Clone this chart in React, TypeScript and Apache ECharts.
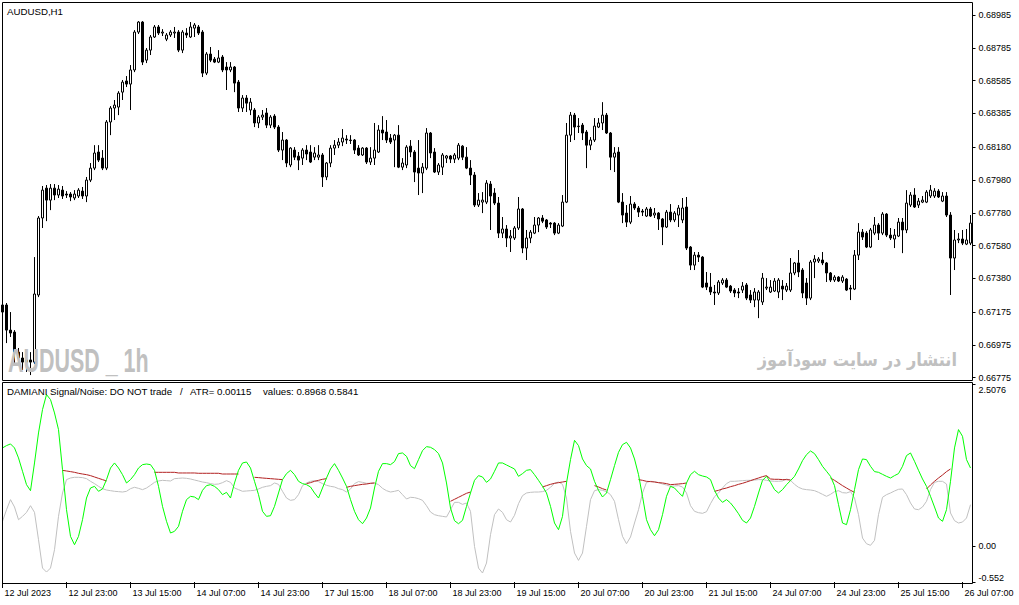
import React, { useEffect, useRef } from "react";
import * as echarts from "echarts";

// ---------- axis ticks / labels ----------
const xTickLabels = [
  "12 Jul 2023", "12 Jul 23:00", "13 Jul 15:00", "14 Jul 07:00", "14 Jul 23:00", "17 Jul 15:00",
  "18 Jul 07:00", "18 Jul 23:00", "19 Jul 15:00", "20 Jul 07:00", "20 Jul 23:00", "21 Jul 15:00",
  "24 Jul 07:00", "24 Jul 23:00", "25 Jul 15:00", "26 Jul 07:00",
];
const xLabelEvery = 16;
const priceTicks = [0.68985, 0.68785, 0.68585, 0.68385, 0.6818, 0.6798, 0.6778, 0.6758, 0.6738, 0.67175, 0.66975, 0.66775];
const priceMin = 0.66775;
const priceMax = 0.68985;
const indicatorTicks = [2.5076, 0, -0.552];
const indicatorTickLabels = ["2.5076", "0.00", "-0.552"];
const indicatorMin = -0.552;
const indicatorMax = 2.5076;

// ---------- AUDUSD H1 candles ----------
const open = [
  0.67175, 0.67218, 0.67065, 0.67053, 0.66931, 0.66895, 0.6687, 0.66883, 0.6687, 0.67279,
  0.67748, 0.6793, 0.67857, 0.6793, 0.67888, 0.67918, 0.67894, 0.67894, 0.6787, 0.67882,
  0.67912, 0.67882, 0.67979, 0.68052, 0.6815, 0.68113, 0.68052, 0.68333, 0.68418, 0.68424,
  0.68515, 0.68583, 0.68564, 0.6865, 0.68881, 0.68942, 0.6871, 0.68771, 0.68851, 0.68912,
  0.68875, 0.68838, 0.68863, 0.68875, 0.68881, 0.68771, 0.68875, 0.68851, 0.68905, 0.68912,
  0.68881, 0.68631, 0.68747, 0.68716, 0.68698, 0.68729, 0.68668, 0.6865, 0.68668, 0.68576,
  0.68418, 0.68479, 0.68406, 0.68406, 0.68327, 0.68363, 0.68388, 0.68314, 0.68369, 0.68302,
  0.68162, 0.68223, 0.68071, 0.68162, 0.68125, 0.68113, 0.68162, 0.6815, 0.68119, 0.68119,
  0.68132, 0.67998, 0.68083, 0.68174, 0.68192, 0.68211, 0.68229, 0.68223, 0.68223, 0.68174,
  0.68132, 0.68174, 0.68089, 0.68113, 0.6815, 0.68284, 0.68272, 0.68235, 0.68223, 0.68253,
  0.68058, 0.68071, 0.68186, 0.6815, 0.68052, 0.68022, 0.68052, 0.68266, 0.6815, 0.68028,
  0.68058, 0.68113, 0.68126, 0.68107, 0.68113, 0.68186, 0.68119, 0.68052, 0.6801, 0.67827,
  0.67845, 0.67845, 0.67955, 0.679, 0.67839, 0.67656, 0.67681, 0.67626, 0.67626, 0.67687,
  0.67803, 0.67565, 0.67626, 0.67656, 0.67705, 0.67748, 0.67736, 0.67717, 0.67717, 0.67656,
  0.67699, 0.67845, 0.68253, 0.68375, 0.68308, 0.68314, 0.68272, 0.68192, 0.68223, 0.68302,
  0.68327, 0.68375, 0.68266, 0.68119, 0.6815, 0.67845, 0.67778, 0.67723, 0.67833, 0.67809,
  0.6779, 0.6776, 0.67803, 0.67766, 0.67778, 0.67742, 0.67693, 0.67784, 0.67736, 0.67766,
  0.67736, 0.67815, 0.67571, 0.67461, 0.67522, 0.6751, 0.67352, 0.67327, 0.67297, 0.67291,
  0.67352, 0.6737, 0.67333, 0.67309, 0.67297, 0.67309, 0.6734, 0.67279, 0.67248, 0.67248,
  0.67236, 0.67321, 0.67297, 0.67303, 0.67297, 0.67333, 0.67309, 0.67309, 0.67413, 0.67474,
  0.67431, 0.67352, 0.6726, 0.6748, 0.67486, 0.67492, 0.67474, 0.67413, 0.6737, 0.67388,
  0.67364, 0.67376, 0.67321, 0.67315, 0.67522, 0.67662, 0.67656, 0.67571, 0.67656, 0.67705,
  0.67656, 0.67772, 0.67644, 0.6762, 0.67638, 0.67723, 0.67675, 0.67827, 0.67888, 0.67827,
  0.67845, 0.67845, 0.67882, 0.67882, 0.67912, 0.67851, 0.67882, 0.67766, 0.67504, 0.67614,
  0.6762, 0.67589, 0.67595,
];
const close = [
  0.67218, 0.67065, 0.67047, 0.66931, 0.66895, 0.6687, 0.66883, 0.6687, 0.67285, 0.67748,
  0.67918, 0.67857, 0.6793, 0.67888, 0.67924, 0.67882, 0.67888, 0.67876, 0.67894, 0.67918,
  0.67882, 0.67979, 0.68052, 0.68144, 0.68101, 0.68052, 0.68333, 0.68418, 0.68436, 0.68509,
  0.68576, 0.68564, 0.6865, 0.68881, 0.68942, 0.68698, 0.68771, 0.68851, 0.68912, 0.68875,
  0.68881, 0.68863, 0.68881, 0.68881, 0.68771, 0.68881, 0.68863, 0.68912, 0.68924, 0.68875,
  0.68631, 0.68747, 0.6871, 0.68698, 0.68723, 0.6865, 0.6865, 0.68668, 0.6857, 0.68418,
  0.68479, 0.68448, 0.68454, 0.68327, 0.68363, 0.68375, 0.68314, 0.68363, 0.68302, 0.68162,
  0.68223, 0.68083, 0.68174, 0.68119, 0.68101, 0.68162, 0.68138, 0.68089, 0.68144, 0.68132,
  0.67998, 0.68083, 0.68174, 0.68192, 0.68211, 0.68235, 0.68223, 0.6822, 0.68162, 0.68132,
  0.68174, 0.68089, 0.68113, 0.68162, 0.68284, 0.68266, 0.68223, 0.68211, 0.68253, 0.68058,
  0.68083, 0.6818, 0.6815, 0.68028, 0.68022, 0.68058, 0.68266, 0.68144, 0.68028, 0.68071,
  0.68132, 0.68126, 0.68107, 0.68132, 0.68192, 0.68119, 0.68052, 0.6801, 0.67827, 0.67857,
  0.67857, 0.67961, 0.67882, 0.67839, 0.67656, 0.67681, 0.67626, 0.67638, 0.67687, 0.67803,
  0.67565, 0.67626, 0.67662, 0.67705, 0.67748, 0.67729, 0.67693, 0.67711, 0.67656, 0.67705,
  0.67845, 0.68253, 0.68375, 0.68302, 0.68305, 0.68266, 0.68192, 0.68223, 0.68308, 0.68327,
  0.68375, 0.68266, 0.68119, 0.68144, 0.67845, 0.67766, 0.67723, 0.67833, 0.67809, 0.67784,
  0.67784, 0.67803, 0.6776, 0.67778, 0.67742, 0.67693, 0.67784, 0.67736, 0.67778, 0.67809,
  0.67809, 0.67565, 0.67461, 0.67522, 0.6751, 0.67327, 0.67327, 0.67297, 0.67291, 0.67358,
  0.6737, 0.67327, 0.67303, 0.67291, 0.67291, 0.67333, 0.6726, 0.67248, 0.67297, 0.67297,
  0.67382, 0.67327, 0.67327, 0.67364, 0.6737, 0.67315, 0.67333, 0.67413, 0.67474, 0.67419,
  0.67291, 0.6726, 0.6748, 0.67498, 0.67498, 0.67474, 0.67413, 0.6737, 0.67388, 0.67364,
  0.67388, 0.67309, 0.67315, 0.67522, 0.67662, 0.67632, 0.67571, 0.67675, 0.67705, 0.67656,
  0.67772, 0.67644, 0.67626, 0.67644, 0.67723, 0.67675, 0.67839, 0.67888, 0.67815, 0.67851,
  0.67857, 0.67906, 0.67918, 0.67912, 0.67876, 0.67882, 0.67766, 0.67504, 0.67614, 0.6762,
  0.67595, 0.67614, 0.67717,
];
const low = [
  0.67169, 0.66986, 0.67023, 0.66852, 0.66846, 0.66822, 0.6681, 0.66791, 0.66858, 0.67266,
  0.67687, 0.67729, 0.67796, 0.67857, 0.6787, 0.67864, 0.6787, 0.67851, 0.67857, 0.6787,
  0.67864, 0.67845, 0.67967, 0.6804, 0.68089, 0.6804, 0.6804, 0.68253, 0.68345, 0.68375,
  0.68467, 0.68546, 0.68406, 0.68637, 0.68869, 0.6868, 0.68692, 0.68741, 0.68845, 0.68863,
  0.68857, 0.68826, 0.68851, 0.68845, 0.68759, 0.68753, 0.68845, 0.68845, 0.68851, 0.68863,
  0.68607, 0.68619, 0.68698, 0.68692, 0.68692, 0.68637, 0.68528, 0.68637, 0.68515, 0.68394,
  0.68394, 0.68394, 0.68375, 0.68302, 0.68296, 0.68345, 0.68296, 0.68296, 0.6829, 0.6815,
  0.68101, 0.68058, 0.68058, 0.68101, 0.6804, 0.68071, 0.68101, 0.68083, 0.68101, 0.68101,
  0.67937, 0.67979, 0.68058, 0.68132, 0.68174, 0.68186, 0.68199, 0.68199, 0.68138, 0.68126,
  0.68126, 0.68077, 0.68071, 0.68071, 0.68144, 0.68223, 0.68205, 0.68199, 0.68058, 0.68052,
  0.6804, 0.68052, 0.68119, 0.67967, 0.67888, 0.679, 0.6804, 0.68113, 0.68022, 0.6801,
  0.6801, 0.68083, 0.68083, 0.68083, 0.68101, 0.68101, 0.68046, 0.67949, 0.67815, 0.67815,
  0.67778, 0.67833, 0.67675, 0.67827, 0.67626, 0.67626, 0.67571, 0.67541, 0.67614, 0.67675,
  0.67534, 0.67492, 0.67595, 0.6765, 0.67662, 0.67717, 0.67681, 0.67687, 0.67644, 0.6765,
  0.67693, 0.67839, 0.68211, 0.68223, 0.68266, 0.68223, 0.68052, 0.68162, 0.68211, 0.68296,
  0.68284, 0.6826, 0.6804, 0.68028, 0.67839, 0.67717, 0.67693, 0.67711, 0.67797, 0.67754,
  0.6776, 0.67754, 0.67754, 0.67748, 0.67675, 0.67583, 0.67687, 0.67723, 0.67723, 0.67693,
  0.67717, 0.67553, 0.67431, 0.67431, 0.6748, 0.67321, 0.67309, 0.67279, 0.67218, 0.67279,
  0.6734, 0.67321, 0.67291, 0.67266, 0.6726, 0.67291, 0.67248, 0.6723, 0.67205, 0.67138,
  0.67218, 0.67309, 0.67291, 0.67297, 0.6726, 0.67248, 0.67297, 0.67297, 0.674, 0.67388,
  0.6726, 0.67218, 0.67248, 0.67382, 0.67474, 0.67461, 0.67358, 0.67358, 0.67358, 0.67358,
  0.67352, 0.67303, 0.67248, 0.67309, 0.67492, 0.67614, 0.67565, 0.67565, 0.67644, 0.67614,
  0.67644, 0.67632, 0.67614, 0.67565, 0.67632, 0.67534, 0.67656, 0.67815, 0.67809, 0.67809,
  0.67839, 0.67839, 0.6787, 0.6787, 0.6787, 0.67845, 0.67754, 0.67279, 0.67431, 0.67595,
  0.67583, 0.67583, 0.67583,
];
const high = [
  0.67266, 0.6723, 0.67175, 0.67065, 0.66956, 0.66931, 0.66913, 0.66931, 0.6751, 0.6776,
  0.67943, 0.67949, 0.67955, 0.67955, 0.67949, 0.67943, 0.67912, 0.67906, 0.67918, 0.6793,
  0.67937, 0.67998, 0.68083, 0.68192, 0.68192, 0.68162, 0.68345, 0.6843, 0.68467, 0.68521,
  0.68589, 0.68613, 0.6868, 0.68893, 0.68948, 0.68948, 0.68784, 0.68863, 0.68924, 0.68924,
  0.68899, 0.68875, 0.68893, 0.68912, 0.68893, 0.68893, 0.68905, 0.68942, 0.68936, 0.68924,
  0.68893, 0.68759, 0.6879, 0.68729, 0.68771, 0.68741, 0.68698, 0.68698, 0.68674, 0.68589,
  0.68497, 0.68497, 0.68479, 0.68418, 0.68375, 0.68406, 0.68418, 0.68375, 0.68381, 0.68314,
  0.68272, 0.68229, 0.6818, 0.6818, 0.6815, 0.68174, 0.68192, 0.68192, 0.6818, 0.68192,
  0.68144, 0.68089, 0.68192, 0.68223, 0.68235, 0.6829, 0.68253, 0.68253, 0.68229, 0.68192,
  0.6818, 0.6818, 0.6818, 0.68327, 0.68314, 0.68369, 0.68345, 0.6826, 0.6826, 0.68314,
  0.68113, 0.68192, 0.68223, 0.68162, 0.68223, 0.68083, 0.68296, 0.68272, 0.68174, 0.68083,
  0.68144, 0.68132, 0.68132, 0.68144, 0.68205, 0.68192, 0.6818, 0.68101, 0.68028, 0.679,
  0.67906, 0.67979, 0.67973, 0.6793, 0.67876, 0.67754, 0.67705, 0.67675, 0.67699, 0.67876,
  0.67809, 0.67675, 0.67675, 0.67754, 0.67754, 0.67766, 0.67742, 0.67723, 0.67723, 0.67717,
  0.67888, 0.68327, 0.68394, 0.68388, 0.68357, 0.68327, 0.68284, 0.68241, 0.68357, 0.68357,
  0.68454, 0.68388, 0.68272, 0.6818, 0.6818, 0.679, 0.67827, 0.67882, 0.67845, 0.67821,
  0.67803, 0.67815, 0.67815, 0.67809, 0.67784, 0.67748, 0.67797, 0.67833, 0.6779, 0.67827,
  0.6787, 0.67876, 0.67577, 0.67541, 0.67541, 0.67516, 0.67419, 0.67413, 0.6734, 0.6737,
  0.67382, 0.67382, 0.6734, 0.67321, 0.67321, 0.67358, 0.67352, 0.67309, 0.67321, 0.67309,
  0.67413, 0.67382, 0.6737, 0.67382, 0.67382, 0.6737, 0.67352, 0.67504, 0.6748, 0.67553,
  0.67443, 0.67382, 0.67492, 0.67522, 0.6751, 0.67541, 0.6748, 0.67419, 0.674, 0.67394,
  0.674, 0.67382, 0.6734, 0.67553, 0.67717, 0.67681, 0.67668, 0.67687, 0.67754, 0.67717,
  0.67784, 0.67778, 0.67687, 0.67681, 0.67748, 0.67748, 0.67918, 0.67906, 0.6793, 0.6787,
  0.67882, 0.67918, 0.67949, 0.6793, 0.67924, 0.67906, 0.67906, 0.67784, 0.67675, 0.67656,
  0.67675, 0.67681, 0.67766,
];

// ---------- DAMIANI Signal/Noise ----------
const signal = [
  1.525, 1.561, 1.587, 1.525, 1.37, 1.163, 0.956, 0.863, 1.292, 1.757,
  2.119, 2.351, 2.274, 2.067, 1.809, 1.189, 0.568, 0.155, 0.026, 0.155,
  0.413, 0.749, 0.904, 0.93, 0.853, 0.889, 1.034, 1.214, 1.292, 1.214,
  1.111, 0.982, 1.034, 1.111, 1.214, 1.266, 1.276, 1.266, 1.178, 0.93,
  0.62, 0.388, 0.207, 0.233, 0.31, 0.543, 0.724, 0.775, 0.765, 0.724,
  0.868, 0.941, 0.956, 0.93, 0.879, 0.801, 0.837, 0.749, 0.982, 1.178,
  1.292, 1.307, 1.214, 1.008, 0.801, 0.543, 0.465, 0.475, 0.62, 0.827,
  1.034, 1.127, 1.178, 1.111, 1.008, 0.972, 0.956, 0.92, 0.827, 0.749,
  0.904, 1.059, 1.199, 1.282, 1.178, 1.059, 0.93, 0.724, 0.543, 0.413,
  0.351, 0.439, 0.594, 0.904, 1.163, 1.282, 1.282, 1.266, 1.313, 1.437,
  1.447, 1.395, 1.251, 1.204, 1.344, 1.483, 1.545, 1.535, 1.499, 1.437,
  1.292, 0.982, 0.594, 0.398, 0.351, 0.403, 0.62, 0.827, 1.023, 1.096,
  1.075, 0.992, 1.044, 1.163, 1.292, 1.292, 1.261, 1.23, 1.199, 1.085,
  1.127, 1.178, 1.189, 1.111, 1.023, 0.93, 0.827, 0.62, 0.362, 0.258,
  0.465, 0.982, 1.344, 1.643, 1.561, 1.354, 1.251, 1.199, 1.008, 0.868,
  0.765, 0.827, 1.034, 1.251, 1.457, 1.576, 1.612, 1.525, 1.354, 1.111,
  0.775, 0.413, 0.258, 0.165, 0.258, 0.491, 0.775, 0.93, 0.904, 0.837,
  0.775, 0.982, 1.111, 1.163, 1.111, 1.09, 1.075, 1.034, 0.868, 0.749,
  0.682, 0.724, 0.672, 0.594, 0.506, 0.403, 0.362, 0.439, 0.62, 0.827,
  1.023, 1.085, 0.992, 0.879, 0.827, 0.879, 0.956, 1.018, 1.085, 1.199,
  1.328, 1.421, 1.478, 1.437, 1.344, 1.24, 1.163, 1.085, 0.941, 0.646,
  0.362, 0.336, 0.568, 0.879, 1.189, 1.354, 1.344, 1.24, 1.158, 1.147,
  1.116, 1.085, 1.059, 1.096, 1.127, 1.24, 1.406, 1.447, 1.318, 1.178,
  1.044, 0.93, 0.775, 0.61, 0.439, 0.388, 0.568, 1.008, 1.525, 1.809,
  1.705, 1.344, 1.214,
];
const noise = [
  0.388, 0.568, 0.724, 0.61, 0.413, 0.465, 0.527, 0.63, 0.527, 0.103,
  -0.336, -0.398, -0.336, -0.052, 0.465, 0.827, 1.034, 1.059, 1.07, 1.07,
  1.065, 1.049, 1.008, 0.972, 0.93, 0.894, 0.873, 0.863, 0.853, 0.848,
  0.842, 0.853, 0.894, 0.915, 0.899, 0.879, 0.904, 0.946, 0.992, 1.013,
  1.023, 1.018, 1.013, 1.049, 1.054, 1.059, 1.054, 1.044, 1.028, 1.013,
  0.997, 0.987, 0.972, 0.961, 0.966, 0.987, 1.018, 0.992, 0.904, 0.879,
  0.853, 0.858, 0.863, 0.868, 0.889, 0.915, 0.93, 0.941, 0.982, 0.961,
  0.853, 0.749, 0.713, 0.724, 0.801, 0.941, 0.982, 1.008, 1.018, 1.003,
  0.972, 0.946, 0.93, 0.92, 0.894, 0.879, 0.842, 0.889, 0.972, 1.003,
  0.992, 0.977, 0.977, 0.982, 0.956, 0.899, 0.863, 0.842, 0.853, 0.868,
  0.801, 0.734, 0.76, 0.755, 0.739, 0.713, 0.63, 0.532, 0.491, 0.475,
  0.465, 0.455, 0.568, 0.682, 0.682, 0.651, 0.672, 0.543, 0.0, -0.336,
  -0.413, -0.258, 0.181, 0.491, 0.579, 0.527, 0.413, 0.377, 0.481, 0.661,
  0.786, 0.827, 0.837, 0.842, 0.842, 0.848, 0.868, 0.915, 0.977, 0.997,
  0.961, 0.749, 0.233, -0.103, -0.217, -0.103, 0.31, 0.724, 0.863, 0.879,
  0.868, 0.848, 0.801, 0.698, 0.413, 0.155, 0.041, 0.145, 0.362, 0.568,
  0.827, 0.992, 1.008, 1.003, 0.987, 0.966, 0.951, 0.93, 0.935, 0.941,
  0.92, 0.827, 0.63, 0.543, 0.522, 0.512, 0.537, 0.661, 0.77, 0.827,
  0.904, 0.972, 1.008, 1.008, 1.013, 1.018, 1.023, 1.023, 1.028, 1.034,
  1.034, 1.023, 1.013, 1.008, 1.008, 1.013, 1.044, 1.023, 0.961, 0.915,
  0.889, 0.879, 0.873, 0.863, 0.837, 0.806, 0.775, 0.806, 0.848, 0.863,
  0.832, 0.827, 0.848, 0.749, 0.491, 0.129, 0.041, 0.016, 0.093, 0.491,
  0.76, 0.801, 0.827, 0.858, 0.884, 0.889, 0.801, 0.672, 0.579, 0.568,
  0.61, 0.698, 0.879, 0.992, 1.008, 1.008, 0.966, 0.517, 0.398, 0.362,
  0.377, 0.439, 0.646,
];
// red "do not trade" line: [first bar index, values]
const thresholdSegments: [number, number[]][] = [
  [15, [1.178, 1.168, 1.158, 1.147, 1.132, 1.121, 1.111, 1.096, 1.075, 1.054, 1.034, 1.013]],
  [38, [1.147, 1.147, 1.147, 1.147, 1.147, 1.147, 1.137, 1.137, 1.137, 1.137, 1.137,
        1.132, 1.132, 1.132, 1.132, 1.132, 1.132, 1.121, 1.121, 1.121, 1.121, 1.121]],
  [63, [1.07, 1.065, 1.059, 1.054, 1.049, 1.044, 1.039, 1.034]],
  [76, [0.972, 0.987, 1.008, 1.023, 1.039, 1.049]],
  [86, [0.915, 0.93, 0.941, 0.951, 0.961, 0.966, 0.977, 0.982]],
  [112, [0.698, 0.729, 0.76, 0.791, 0.822, 0.842]],
  [135, [0.92, 0.941, 0.961, 0.977, 0.987, 0.997, 1.008]],
  [148, [0.941, 0.92, 0.894, 0.873]],
  [159, [1.034, 1.023, 1.008, 1.003, 0.997, 0.987, 0.982, 0.972, 0.956, 0.961, 0.966, 0.972, 0.982]],
  [178, [0.853, 0.868, 0.889, 0.904, 0.925, 0.941, 0.961, 0.977, 0.997, 1.018, 1.039, 1.059, 1.08, 1.096,
         1.044, 1.039, 1.039, 1.034, 1.034, 1.028]],
  [207, [1.059, 1.023, 0.982, 0.941, 0.904, 0.868, 0.837]],
  [231, [0.889, 0.951, 1.008, 1.059, 1.106, 1.158, 1.199]],
];

const FONT = '"Liberation Sans", Arial, sans-serif';

export default function App() {
  const ref = useRef<HTMLDivElement>(null);
  useEffect(() => {
    if (!ref.current) return;
    const chart = echarts.init(ref.current, null, { renderer: "svg", width: 1019, height: 605 });
    const n = open.length;
    const cats = open.map((_, i) => String(i));
    const candles = open.map((o, i) => [o, close[i], low[i], high[i]]);
    const threshold: (number | null)[] = open.map(() => null);
    thresholdSegments.forEach(([start, vals]) => vals.forEach((v, k) => (threshold[start + k] = v)));
    const plotLeft = 0.5;
    const plotWidth = n * 4;

    const option: any = {
      animation: false,
      backgroundColor: "#ffffff",
      textStyle: { fontFamily: FONT },
      grid: [
        { left: plotLeft, width: plotWidth, top: 15, height: 362.7 },
        { left: plotLeft, width: plotWidth, top: 384.5, height: 197.5 },
      ],
      xAxis: [
        { type: "category", gridIndex: 0, data: cats, show: false },
        {
          type: "category",
          gridIndex: 1,
          data: cats,
          position: "bottom",
          axisLine: { show: false, onZero: false },
          axisTick: {
            show: true,
            alignWithLabel: true,
            interval: (i: number) => i % xLabelEvery === 0,
            length: 6,
            lineStyle: { color: "#000", width: 1 },
          },
          axisLabel: {
            interval: (i: number) => i % xLabelEvery === 0,
            formatter: (_v: string, i: number) => xTickLabels[i / xLabelEvery] ?? "",
            align: "left",
            margin: 6,
            padding: [0, 0, 0, 2],
            fontSize: 9,
            fontFamily: FONT,
            color: "#000",
          },
          splitLine: { show: false },
        },
      ],
      yAxis: [
        {
          type: "value",
          gridIndex: 0,
          position: "right",
          min: priceMin,
          max: priceMax,
          splitLine: { show: false },
          axisLine: { show: false },
          axisTick: { show: true, length: 3, customValues: priceTicks, lineStyle: { color: "#000" } },
          axisLabel: {
            customValues: priceTicks,
            formatter: (v: number) => v.toFixed(5),
            margin: 6,
            fontSize: 9,
            fontFamily: FONT,
            color: "#000",
          },
        },
        {
          type: "value",
          gridIndex: 1,
          position: "right",
          min: indicatorMin,
          max: indicatorMax,
          splitLine: { show: false },
          axisLine: { show: false },
          axisTick: { show: true, length: 3, customValues: indicatorTicks, lineStyle: { color: "#000" } },
          axisLabel: {
            customValues: indicatorTicks,
            formatter: (v: number) => {
              const k = indicatorTicks.findIndex((t) => Math.abs(t - v) < 1e-6);
              const s = k >= 0 ? indicatorTickLabels[k] : "";
              if (v === indicatorMax) return "{t|" + s + "}";
              if (v === indicatorMin) return "{b|" + s + "}";
              return s;
            },
            rich: {
              t: { padding: [10, 0, 0, 0], fontSize: 9, fontFamily: FONT, color: "#000" },
              b: { padding: [0, 0, 9, 0], fontSize: 9, fontFamily: FONT, color: "#000" },
            },
            margin: 6,
            fontSize: 9,
            fontFamily: FONT,
            color: "#000",
          },
        },
      ],
      series: [
        {
          type: "candlestick",
          xAxisIndex: 0,
          yAxisIndex: 0,
          data: candles,
          barWidth: 2,
          z: 3,
          itemStyle: {
            color: "#ffffff",
            color0: "#000000",
            borderColor: "#000000",
            borderColor0: "#000000",
            borderWidth: 1,
          },
        },
        {
          type: "line",
          xAxisIndex: 1,
          yAxisIndex: 1,
          data: noise,
          symbol: "none",
          lineStyle: { color: "#c0c0c0", width: 1 },
          z: 2,
        },
        {
          type: "line",
          xAxisIndex: 1,
          yAxisIndex: 1,
          data: threshold,
          symbol: "none",
          connectNulls: false,
          lineStyle: { color: "#b22222", width: 1 },
          z: 3,
        },
        {
          type: "line",
          xAxisIndex: 1,
          yAxisIndex: 1,
          data: signal,
          symbol: "none",
          lineStyle: { color: "#00ff00", width: 1 },
          z: 4,
        },
      ],
      graphic: [
        {
          type: "text",
          x: 8,
          y: 360.5,
          scaleX: 0.65,
          z: 50,
          style: {
            text: "AUDUSD _ 1h",
            fontSize: 33,
            fontWeight: "bold",
            fontFamily: FONT,
            fill: "#c0c0c0",
            verticalAlign: "middle",
          },
        },
        {
          type: "text",
          x: 957,
          y: 360,
          scaleX: 0.9,
          z: 50,
          style: {
            text: "انتشار در سایت سودآموز",
            fontSize: 18,
            fontWeight: "bold",
            fontFamily: '"DejaVu Sans", sans-serif',
            fill: "#c0c0c0",
            align: "right",
            verticalAlign: "middle",
          },
        },
        {
          type: "rect",
          z: 100,
          shape: { x: 2.5, y: 2.5, width: 970, height: 378 },
          style: { fill: "none", stroke: "#000", lineWidth: 1 },
        },
        {
          type: "rect",
          z: 100,
          shape: { x: 2.5, y: 382.5, width: 970, height: 201 },
          style: { fill: "none", stroke: "#000", lineWidth: 1 },
        },
        {
          type: "text",
          x: 7,
          y: 11,
          z: 101,
          style: { text: "AUDUSD,H1", fontSize: 9.7, fontFamily: FONT, fill: "#000", verticalAlign: "middle" },
        },
        {
          type: "text",
          x: 7,
          y: 391.5,
          z: 101,
          style: { text: "DAMIANI Signal/Noise: DO NOT trade", fontSize: 9.7, fontFamily: FONT, fill: "#000", verticalAlign: "middle" },
        },
        {
          type: "text",
          x: 180,
          y: 391.5,
          z: 101,
          style: { text: "/", fontSize: 9.7, fontFamily: FONT, fill: "#000", verticalAlign: "middle" },
        },
        {
          type: "text",
          x: 190,
          y: 391.5,
          z: 101,
          style: { text: "ATR= 0.00115", fontSize: 9.7, fontFamily: FONT, fill: "#000", verticalAlign: "middle" },
        },
        {
          type: "text",
          x: 263,
          y: 391.5,
          z: 101,
          style: { text: "values: 0.8968 0.5841", fontSize: 9.7, fontFamily: FONT, fill: "#000", verticalAlign: "middle" },
        },
      ],
    };
    chart.setOption(option);
    return () => chart.dispose();
  }, []);

  return (
    <div
      style={{ position: "fixed", left: 0, top: 0, width: 1019, height: 605, background: "#ffffff" }}
    >
      <div ref={ref} style={{ width: 1019, height: 605 }} />
    </div>
  );
}
